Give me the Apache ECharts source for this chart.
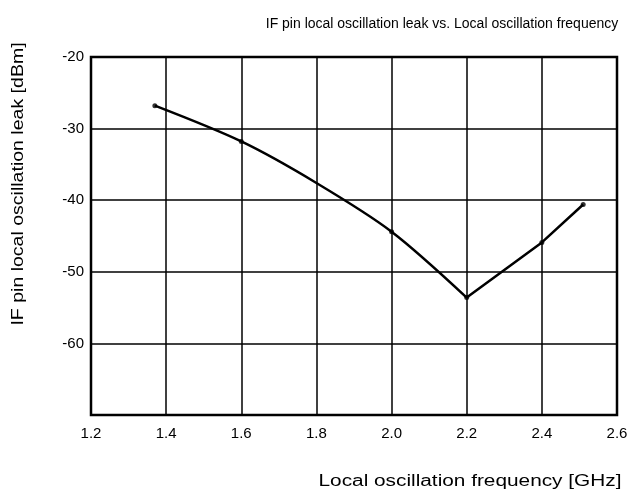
<!DOCTYPE html>
<html>
<head>
<meta charset="utf-8">
<script src="https://cdn.jsdelivr.net/npm/echarts@6/dist/echarts.min.js"></script>
<style>html,body{margin:0;padding:0;background:#fff}#c{width:637px;height:498px}</style>
</head>
<body>
<div id="c"></div>
<script>
// Data
var xTicks = [1.2, 1.4, 1.6, 1.8, 2.0, 2.2, 2.4, 2.6];
var yTicks = [-70, -60, -50, -40, -30, -20];
// falling branch (smooth curve)
var freqFall = [1.37, 1.6, 1.8, 2.0, 2.2];
var leakFall = [-26.8, -31.8, -37.6, -44.4, -53.6];
// rising branch (straight)
var freqRise = [2.2, 2.4, 2.51];
var leakRise = [-53.6, -45.9, -40.6];
// measured points (dots)
var freqPts = [1.37, 1.6, 2.0, 2.2, 2.4, 2.51];
var leakPts = [-26.8, -31.8, -44.4, -53.6, -45.9, -40.6];

var chartTitle = 'IF pin local oscillation leak vs. Local oscillation frequency';
var xTitle = 'Local oscillation frequency [GHz]';
var yTitle = 'IF pin local oscillation leak [dBm]';

function zip(a, b) { return a.map(function (v, i) { return [v, b[i]]; }); }

var font = 'Liberation Sans, Arial, Helvetica, sans-serif';
var chart = echarts.init(document.getElementById('c'), null, {renderer: 'canvas'});
chart.setOption({
  animation: false,
  backgroundColor: '#fff',
  title: [
    {text: chartTitle, left: 437, top: 12, textAlign: 'center',
     textStyle: {fontFamily: font, fontSize: 14, fontWeight: 'normal', color: '#000'}}
  ],
  graphic: [
    {type: 'text', x: 470, y: 482, scaleX: 1.3, silent: true,
     style: {text: xTitle, font: '16px ' + font, fill: '#000', align: 'center', verticalAlign: 'middle'}},
    {type: 'text', x: 19, y: 184, rotation: Math.PI / 2, scaleX: 1.22, silent: true,
     style: {text: yTitle, font: '16px ' + font, fill: '#000', align: 'center', verticalAlign: 'middle'}}
  ],
  grid: {left: 91, top: 57, right: 20, bottom: 83, show: true, borderColor: '#000', borderWidth: 2.5},
  xAxis: {
    type: 'value', min: xTicks[0], max: xTicks[xTicks.length - 1], interval: 0.2,
    axisLine: {show: false}, axisTick: {show: false},
    splitLine: {show: true, lineStyle: {color: '#000', width: 1.5}},
    axisLabel: {margin: 11, fontFamily: font, fontSize: 15, color: '#000',
      formatter: function (v) { return v.toFixed(1); }}
  },
  yAxis: {
    type: 'value', min: yTicks[0], max: yTicks[yTicks.length - 1], interval: 10,
    axisLine: {show: false}, axisTick: {show: false},
    splitLine: {show: true, lineStyle: {color: '#000', width: 1.5}},
    axisLabel: {margin: 7, fontFamily: font, fontSize: 15, color: '#000',
      formatter: function (v) { return v === -70 ? '' : String(v); }}
  },
  series: [
    {type: 'line', data: zip(freqFall, leakFall), smooth: 0.3, showSymbol: false,
     lineStyle: {color: '#000', width: 2.5}},
    {type: 'line', data: zip(freqRise, leakRise), showSymbol: false,
     lineStyle: {color: '#000', width: 2.5}},
    {type: 'scatter', data: zip(freqPts, leakPts), symbolSize: 5, itemStyle: {color: '#000'}}
  ]
});
</script>
</body>
</html>
